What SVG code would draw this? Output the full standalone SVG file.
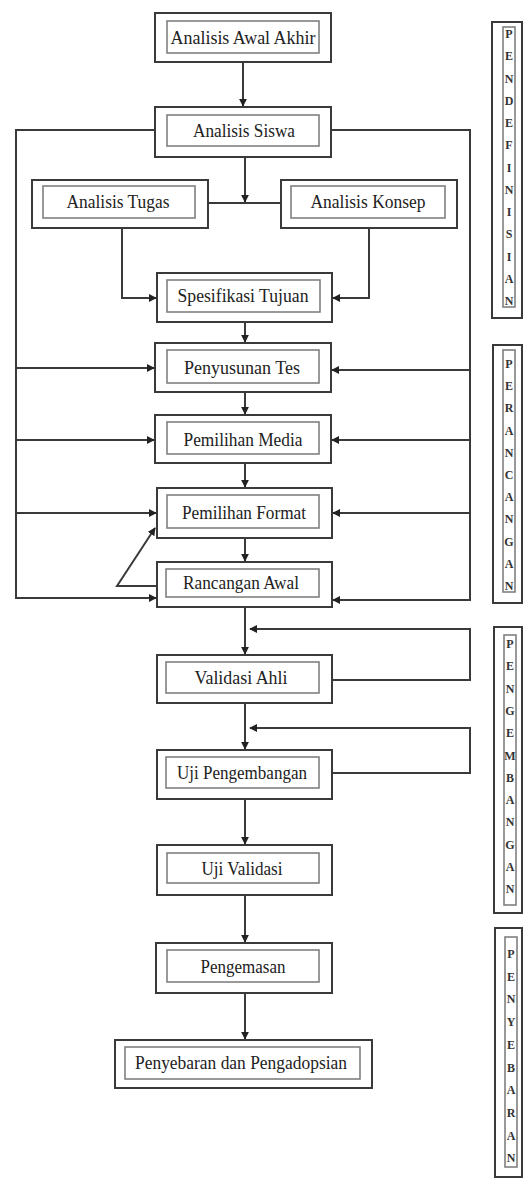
<svg xmlns="http://www.w3.org/2000/svg" width="525" height="1178" viewBox="0 0 525 1178">
<style>
.o{fill:#fff;stroke:#3a3a3a;stroke-width:2}
.i{fill:none;stroke:#808080;stroke-width:1.6}
.t{font-family:"Liberation Serif","Times New Roman",serif;font-size:19px;fill:#222;text-anchor:middle}
.v{font-family:"Liberation Serif","Times New Roman",serif;font-size:12px;font-weight:bold;fill:#333;text-anchor:middle}
.c{fill:none;stroke:#3a3a3a;stroke-width:2}
</style>
<defs>
<marker id="ah" viewBox="0 0 10 10" refX="9" refY="5" markerWidth="4" markerHeight="4" orient="auto" markerUnits="strokeWidth">
<path d="M0,0 L10,5 L0,10 z" fill="#222"/>
</marker>
</defs>
<rect width="525" height="1178" fill="#fff"/>
<g id="connectors">
<path class="c" d="M243,62 V106" marker-end="url(#ah)"/>
<path class="c" d="M245,157 V202" marker-end="url(#ah)"/>
<path class="c" d="M208,203 H281"/>
<path class="c" d="M122,228 V298 H156" marker-end="url(#ah)"/>
<path class="c" d="M369,228 V298 H333" marker-end="url(#ah)"/>
<path class="c" d="M245,322 V342" marker-end="url(#ah)"/>
<path class="c" d="M245,392 V414" marker-end="url(#ah)"/>
<path class="c" d="M245,463 V487" marker-end="url(#ah)"/>
<path class="c" d="M245,538 V561" marker-end="url(#ah)"/>
<path class="c" d="M155,130 H16 V598 H156" marker-end="url(#ah)"/>
<path class="c" d="M16,368 H154" marker-end="url(#ah)"/>
<path class="c" d="M16,440 H154" marker-end="url(#ah)"/>
<path class="c" d="M16,513 H156" marker-end="url(#ah)"/>
<path class="c" d="M331,130 H470 V600 H333" marker-end="url(#ah)"/>
<path class="c" d="M470,370 H332" marker-end="url(#ah)"/>
<path class="c" d="M470,440 H332" marker-end="url(#ah)"/>
<path class="c" d="M470,513 H333" marker-end="url(#ah)"/>
<path class="c" d="M157,586 H117 L155,528" marker-end="url(#ah)"/>
<path class="c" d="M245,607 V654" marker-end="url(#ah)"/>
<path class="c" d="M332,680 H470 V629 H250" marker-end="url(#ah)"/>
<path class="c" d="M245,703 V749" marker-end="url(#ah)"/>
<path class="c" d="M332,773 H470 V728 H250" marker-end="url(#ah)"/>
<path class="c" d="M245,799 V844" marker-end="url(#ah)"/>
<path class="c" d="M245,895 V942" marker-end="url(#ah)"/>
<path class="c" d="M245,993 V1039" marker-end="url(#ah)"/>
</g>
<g id="n-awal"><rect class="o" x="155" y="13" width="176" height="49"/><rect class="i" x="167" y="21" width="152" height="32"/><text class="t" x="243" y="44" textLength="145" lengthAdjust="spacingAndGlyphs">Analisis Awal Akhir</text></g>
<g id="n-siswa"><rect class="o" x="155" y="107" width="176" height="50"/><rect class="i" x="167" y="115" width="152" height="31"/><text class="t" x="244" y="137" textLength="102" lengthAdjust="spacingAndGlyphs">Analisis Siswa</text></g>
<g id="n-tugas"><rect class="o" x="32" y="180" width="176" height="48"/><rect class="i" x="43" y="186" width="152" height="32"/><text class="t" x="118" y="208" textLength="103" lengthAdjust="spacingAndGlyphs">Analisis Tugas</text></g>
<g id="n-konsep"><rect class="o" x="281" y="180" width="176" height="48"/><rect class="i" x="291" y="186" width="154" height="32"/><text class="t" x="368" y="208" textLength="115" lengthAdjust="spacingAndGlyphs">Analisis Konsep</text></g>
<g id="n-spesifikasi"><rect class="o" x="157" y="273" width="175" height="49"/><rect class="i" x="167" y="280" width="153" height="32"/><text class="t" x="243" y="302" textLength="131" lengthAdjust="spacingAndGlyphs">Spesifikasi Tujuan</text></g>
<g id="n-penyusunan"><rect class="o" x="155" y="343" width="176" height="49"/><rect class="i" x="167" y="350" width="152" height="33"/><text class="t" x="242" y="374" textLength="116" lengthAdjust="spacingAndGlyphs">Penyusunan Tes</text></g>
<g id="n-media"><rect class="o" x="155" y="415" width="176" height="48"/><rect class="i" x="167" y="422" width="152" height="32"/><text class="t" x="243" y="446" textLength="119" lengthAdjust="spacingAndGlyphs">Pemilihan Media</text></g>
<g id="n-format"><rect class="o" x="157" y="488" width="175" height="50"/><rect class="i" x="167" y="495" width="152" height="33"/><text class="t" x="244" y="519" textLength="124" lengthAdjust="spacingAndGlyphs">Pemilihan Format</text></g>
<g id="n-rancangan"><rect class="o" x="157" y="562" width="175" height="45"/><rect class="i" x="166" y="569" width="153" height="28"/><text class="t" x="241" y="589" textLength="116" lengthAdjust="spacingAndGlyphs">Rancangan Awal</text></g>
<g id="n-validasi-ahli"><rect class="o" x="157" y="655" width="175" height="48"/><rect class="i" x="166" y="662" width="153" height="31"/><text class="t" x="241" y="684" textLength="93" lengthAdjust="spacingAndGlyphs">Validasi Ahli</text></g>
<g id="n-uji-pengembangan"><rect class="o" x="157" y="750" width="175" height="49"/><rect class="i" x="166" y="757" width="153" height="31"/><text class="t" x="242" y="779" textLength="130" lengthAdjust="spacingAndGlyphs">Uji Pengembangan</text></g>
<g id="n-uji-validasi"><rect class="o" x="157" y="845" width="175" height="50"/><rect class="i" x="167" y="853" width="152" height="30"/><text class="t" x="242" y="875" textLength="81" lengthAdjust="spacingAndGlyphs">Uji Validasi</text></g>
<g id="n-pengemasan"><rect class="o" x="156" y="943" width="176" height="50"/><rect class="i" x="167" y="950" width="152" height="32"/><text class="t" x="243" y="973" textLength="85" lengthAdjust="spacingAndGlyphs">Pengemasan</text></g>
<g id="n-penyebaran"><rect class="o" x="115" y="1040" width="257" height="48"/><rect class="i" x="125" y="1047" width="235" height="32"/><text class="t" x="241" y="1069" textLength="212" lengthAdjust="spacingAndGlyphs">Penyebaran dan Pengadopsian</text></g>
<g id="l-pendefinisian"><rect class="o" x="492" y="22" width="30" height="296"/><rect class="i" x="503" y="27" width="12" height="280"/>
<text class="v" x="509" y="38"><tspan x="509">P</tspan><tspan x="509" dy="22.25">E</tspan><tspan x="509" dy="22.25">N</tspan><tspan x="509" dy="22.25">D</tspan><tspan x="509" dy="22.25">E</tspan><tspan x="509" dy="22.25">F</tspan><tspan x="509" dy="22.25">I</tspan><tspan x="509" dy="22.25">N</tspan><tspan x="509" dy="22.25">I</tspan><tspan x="509" dy="22.25">S</tspan><tspan x="509" dy="22.25">I</tspan><tspan x="509" dy="22.25">A</tspan><tspan x="509" dy="22.25">N</tspan></text></g>
<g id="l-perancangan"><rect class="o" x="493" y="345" width="29" height="258"/><rect class="i" x="503" y="350" width="12" height="242"/>
<text class="v" x="509" y="368"><tspan x="509">P</tspan><tspan x="509" dy="22.2">E</tspan><tspan x="509" dy="22.2">R</tspan><tspan x="509" dy="22.2">A</tspan><tspan x="509" dy="22.2">N</tspan><tspan x="509" dy="22.2">C</tspan><tspan x="509" dy="22.2">A</tspan><tspan x="509" dy="22.2">N</tspan><tspan x="509" dy="22.2">G</tspan><tspan x="509" dy="22.2">A</tspan><tspan x="509" dy="22.2">N</tspan></text></g>
<g id="l-pengembangan"><rect class="o" x="494" y="627" width="28" height="286"/><rect class="i" x="504" y="635" width="12" height="270"/>
<text class="v" x="510" y="648"><tspan x="510">P</tspan><tspan x="510" dy="22.3">E</tspan><tspan x="510" dy="22.3">N</tspan><tspan x="510" dy="22.3">G</tspan><tspan x="510" dy="22.3">E</tspan><tspan x="510" dy="22.3">M</tspan><tspan x="510" dy="22.3">B</tspan><tspan x="510" dy="22.3">A</tspan><tspan x="510" dy="22.3">N</tspan><tspan x="510" dy="22.3">G</tspan><tspan x="510" dy="22.3">A</tspan><tspan x="510" dy="22.3">N</tspan></text></g>
<g id="l-penyebaran"><rect class="o" x="495" y="928" width="27" height="249"/><rect class="i" x="505" y="937" width="12" height="230"/>
<text class="v" x="511" y="958"><tspan x="511">P</tspan><tspan x="511" dy="22.7">E</tspan><tspan x="511" dy="22.7">N</tspan><tspan x="511" dy="22.7">Y</tspan><tspan x="511" dy="22.7">E</tspan><tspan x="511" dy="22.7">B</tspan><tspan x="511" dy="22.7">A</tspan><tspan x="511" dy="22.7">R</tspan><tspan x="511" dy="22.7">A</tspan><tspan x="511" dy="22.7">N</tspan></text></g>
</svg>
